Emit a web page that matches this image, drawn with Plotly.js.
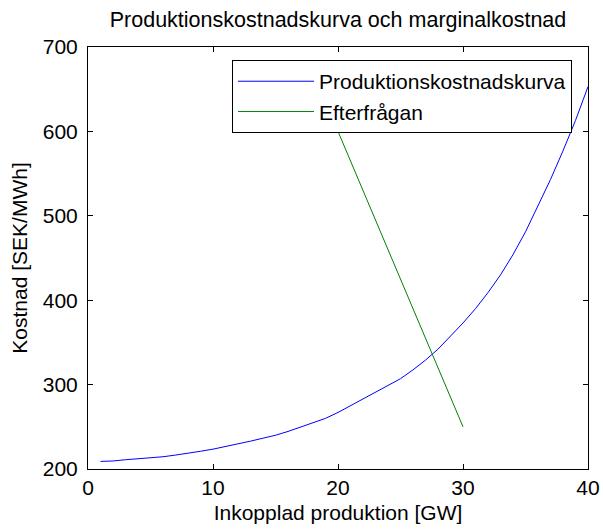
<!DOCTYPE html>
<html>
<head>
<meta charset="utf-8">
<script src="https://cdn.plot.ly/plotly-3.0.1.min.js"></script>
<style>html,body{margin:0;padding:0;background:#fff;}</style>
</head>
<body>
<div id="chart" style="width:603px;height:529px;"></div>
<script>
// Data
const prodX = [1,2,3,4,5,6,7,8,9,10,11,12,13,14,15,16,17,18,19,20,21,22,23,24,25,26,27,28,29,30,31,32,33,34,35,36,37,38,39,40];
const prodCost = [209,209.5,211,212,213,214.5,216.5,218.5,221,223.5,226.5,229.5,233,236.5,240,244.5,249.5,254.5,260,267,275,282.5,290,298,307,317.5,329,342,357,373,390,409,430,454,481,511,543,577,613,653];
const demandX = [20, 30];
const demandPrice = [600, 250];
const seriesNames = ['Produktionskostnadskurva', 'Efterfrågan'];
const xTickVals = [0, 10, 20, 30, 40];
const yTickVals = [200, 300, 400, 500, 600, 700];
const chartTitle = 'Produktionskostnadskurva och marginalkostnad';
const xTitle = 'Inkopplad produktion [GW]';
const yTitle = 'Kostnad [SEK/MWh]';

const FONT = 'Liberation Sans, Arial, Helvetica, sans-serif';
const FS = 21;

const traces = [
  {x: prodX, y: prodCost, name: seriesNames[0], type: 'scatter', mode: 'lines',
   line: {color: '#0000ff', width: 1}},
  {x: demandX, y: demandPrice, name: seriesNames[1], type: 'scatter', mode: 'lines',
   line: {color: '#008000', width: 1}}
];

const axisCommon = {
  showgrid: false, zeroline: false, showline: true, linecolor: '#000', linewidth: 1,
  mirror: 'ticks', ticks: 'inside', ticklen: 5, tickcolor: '#000', tickwidth: 1,
  tickfont: {family: FONT, size: FS, color: '#000'}, automargin: false
};

const layout = {
  width: 603, height: 529,
  paper_bgcolor: '#fff', plot_bgcolor: '#fff',
  margin: {l: 88, r: 15, t: 47, b: 60, pad: 0},
  font: {family: FONT, size: FS, color: '#000'},
  title: {text: chartTitle, font: {family: FONT, size: 21.5, color: '#000'},
          x: 0.5, xref: 'paper', xanchor: 'center', y: 1 - 19/529, yref: 'container', yanchor: 'middle'},
  xaxis: Object.assign({}, axisCommon, {
    range: [0, 40], tickmode: 'array', tickvals: xTickVals,
    title: {text: xTitle, font: {family: FONT, size: FS, color: '#000'}, standoff: 7}
  }),
  yaxis: Object.assign({}, axisCommon, {
    range: [200, 700], tickmode: 'array', tickvals: yTickVals, ticklabelstandoff: 5,
    title: {text: yTitle, font: {family: FONT, size: FS, color: '#000'}, standoff: 9}
  }),
  showlegend: true,
  legend: {
    x: 0.288, y: 0.969, xanchor: 'left', yanchor: 'top',
    bgcolor: '#fff', bordercolor: '#000', borderwidth: 1,
    font: {family: FONT, size: FS, color: '#000'},
    itemwidth: 76, tracegroupgap: 0
  }
};

Plotly.newPlot('chart', traces, layout, {staticPlot: true, displayModeBar: false});
</script>
</body>
</html>
